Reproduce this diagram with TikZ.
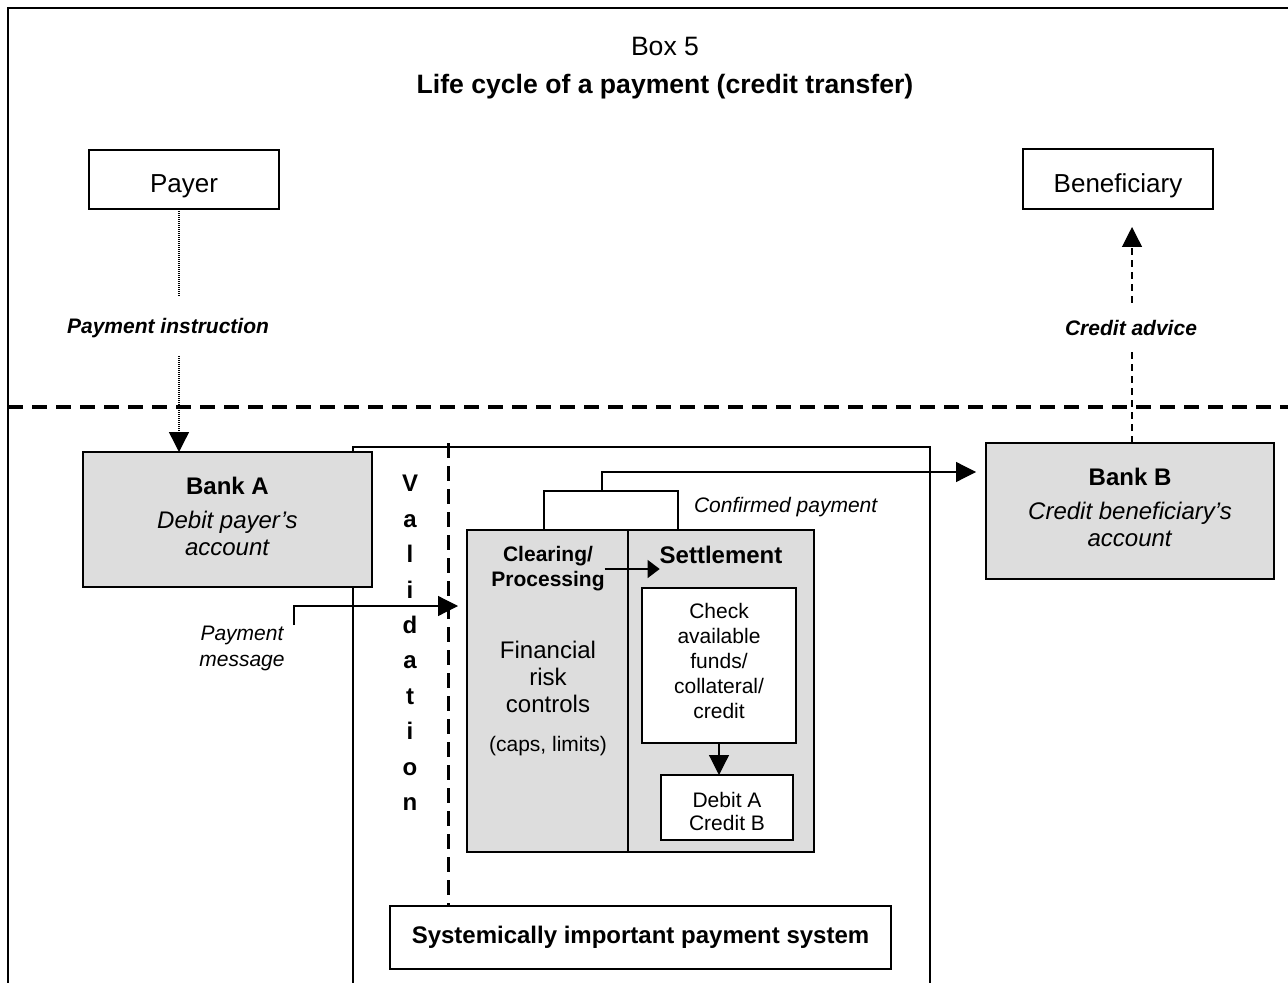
\documentclass[tikz,border=0pt]{standalone}
\usepackage{fontspec}
\setmainfont{Liberation Sans}
\usetikzlibrary{arrows.meta}
\definecolor{boxgray}{RGB}{221,221,221}
\newcommand\szS{\fontsize{10.5}{12.5}\selectfont}
\newcommand\szM{\fontsize{12}{13.5}\selectfont}
\newcommand\szL{\fontsize{13}{15}\selectfont}
\begin{document}
\begin{tikzpicture}[x=0.5pt,y=-0.5pt,
  every node/.style={inner sep=0pt,outer sep=0pt,align=center},
  bx/.style={draw,line width=0.7pt},
  gbx/.style={bx,fill=boxgray},
  tip/.style={-{Triangle[length=10pt,width=10pt]}},
  conn/.style={line width=0.6pt},
  dotconn/.style={line width=0.7pt,dash pattern=on 0.5pt off 0.5pt},
  dashconn/.style={line width=0.6pt,dash pattern=on 3.5pt off 2.5pt},
  sepline/.style={line width=1.6pt,dash pattern=on 7.5pt off 4.5pt},
  valline/.style={line width=1.5pt,dash pattern=on 7.5pt off 4pt},
  framestyle/.style={line width=0.7pt},
  sysline/.style={line width=0.6pt}
]
\useasboundingbox (0,0) rectangle (1288,983);
\draw[framestyle] (8,983) -- (8,8) -- (1288,8);

\node[font=\fontsize{13.3}{15}\selectfont] (box5) at (665,46) {Box 5};
\node[font=\fontsize{13.3}{15}\selectfont\bfseries] (title) at (665,87) {Life cycle of a payment (credit transfer)};

\node[bx,minimum width=95pt,minimum height=29.5pt] (payer) at (184,179.5) {};
\node[font=\szL] (payertxt) at (184,186) {Payer};
\node[bx,minimum width=95pt,minimum height=30pt] (benef) at (1118,179) {};
\node[font=\szL] (beneftxt) at (1118,186) {Beneficiary};

\draw[sepline] (8,407) -- (1288,407);

% payment system frame
\draw[sysline] (353,983) -- (353,447) -- (930,447) -- (930,983);

\node[gbx,minimum width=144.5pt,minimum height=67.5pt] (bankA) at (227.5,519.5) {};
\node[font=\szM] (bankAtxt) at (227.5,516.5)
  {\textbf{Bank A}\\[3.5pt]\textit{Debit payer’s}\\\textit{account}};
\node[gbx,minimum width=144pt,minimum height=68pt] (bankB) at (1130,511) {};
\node[font=\szM] (bankBtxt) at (1130,507)
  {\textbf{Bank B}\\[3.5pt]\textit{Credit beneficiary’s}\\\textit{account}};

\node[gbx,minimum width=80.5pt,minimum height=161pt] (clear) at (547.5,691) {};
\node[gbx,minimum width=93pt,minimum height=161pt] (settle) at (721,691) {};
\node[bx,fill=white,minimum width=77pt,minimum height=77.5pt] (check) at (719,665.5) {};
\node[font=\fontsize{10.5}{12.5}\selectfont] (checktxt) at (719,660.5)
  {Check\\available\\funds/\\collateral/\\credit};
\node[bx,fill=white,minimum width=66pt,minimum height=32.5pt] (debit) at (727,807.5) {};
\node[font=\fontsize{10.5}{11.5}\selectfont] (debittxt) at (727,811.5) {Debit A\\Credit B};
\node[bx,minimum width=250.5pt,minimum height=31.5pt,font=\szM\bfseries] (sips) at (640.5,937.5)
  {Systemically important payment system};

\node[font=\szS\bfseries] (clrtxt) at (548,569) {Clearing/\\Processing};
\node[font=\szM\bfseries] (settxt) at (721,555) {Settlement};
\node[font=\szM] (frc) at (548,677) {Financial\\risk\\controls};
\node[font=\szS] (caps) at (548,746) {(caps, limits)};
\node[font=\fontsize{12}{17.7}\selectfont\bfseries] (valid) at (410,643) {V\\a\\l\\i\\d\\a\\t\\i\\o\\n};
\node[font=\szS\bfseries\itshape] (pinst) at (168,328) {Payment instruction};
\node[font=\szS\bfseries\itshape] (cadv) at (1131,328) {Credit advice};
\node[font=\fontsize{10.5}{13}\selectfont\itshape] (pmsg) at (242,648) {Payment\\message};
\node[font=\szS\itshape,anchor=west] (cpay) at (694,507) {Confirmed payment};

% validation line
\coordinate (vtop) at (448,443);
\draw[valline] (vtop) -- (vtop |- sips.north);

% payment instruction
\coordinate (piA) at (179,297);
\coordinate (piB) at (179,356);
\draw[dotconn] (payer.south -| piA) -- (piA);
\draw[dotconn,tip] (piB) -- (bankA.north -| piB);

% credit advice
\coordinate (caA) at (1132,303);
\coordinate (caB) at (1132,349);
\draw[dashconn,tip,shorten >=9pt] (caA) -- (benef.south -| caA);
\draw[dashconn] (bankB.north -| caB) -- (caB);

% payment message
\coordinate (pm0) at (294,625);
\coordinate (pm1) at (294,606);
\draw[conn,tip,shorten >=4.5pt] (pm0) -- (pm1) -- (pm1 -| clear.west);

% clearing -> settlement
\draw[conn,-{Triangle[length=6pt,width=9pt]}] (clrtxt.east) -- (clrtxt.east -| settxt.west);

% check -> debit
\draw[conn,tip] (check.south) -- (check.south |- debit.north);

% confirmed payment
\coordinate (cpL) at (544,491);
\coordinate (cpR) at (678,491);
\coordinate (cpM) at (602,491);
\coordinate (cpT) at (602,472);
\draw[conn] (clear.north -| cpL) -- (cpL) -- (cpR) -- (settle.north -| cpR);
\draw[conn,tip,shorten >=5pt] (cpM) -- (cpT) -- (cpT -| bankB.west);
\end{tikzpicture}
\end{document}
